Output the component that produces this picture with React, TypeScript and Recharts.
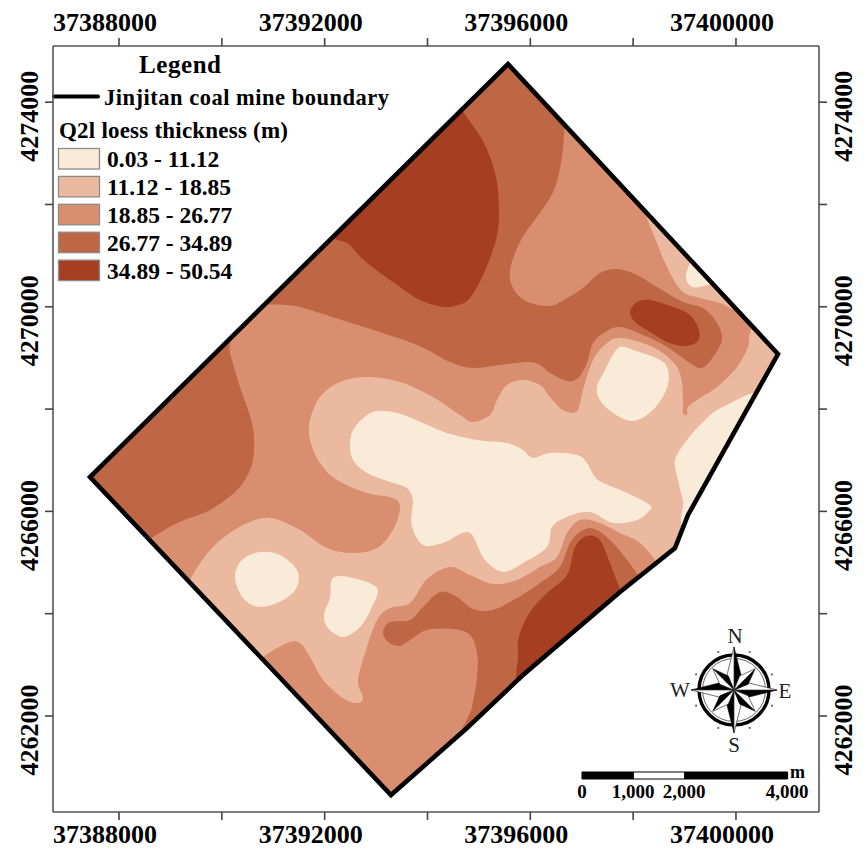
import React from 'react';
import { ScatterChart, Scatter, XAxis, YAxis, ReferenceArea } from 'recharts';

// Map grid origin; every contour vertex is [metres east, metres north] of it.
const ORIGIN_E = 37388000;
const ORIGIN_N = 4262000;
const X_DOMAIN = [37386716, 37401615];
const Y_DOMAIN = [4260123, 4275098];
const X_TICKS = [37388000, 37390000, 37392000, 37394000, 37396000, 37398000, 37400000];
const Y_TICKS = [4262000, 4264000, 4266000, 4268000, 4270000, 4272000, 4274000];
const X_LABELLED = [37388000, 37392000, 37396000, 37400000];
const Y_LABELLED = [4262000, 4266000, 4270000, 4274000];

const CLASS_LABELS = ['0.03 - 11.12', '11.12 - 18.85', '18.85 - 26.77', '26.77 - 34.89', '34.89 - 50.54'];
const CLASS_COLORS = ['#FAEAD8', '#EAB99F', '#D98F6F', '#BF6645', '#A63F22'];

const boundary = [[7566,12747],[12818,7077],[11067,3930],[10814,3284],[9744,2424],[7858,802],[6769,-235],[5290,-1544],[-564,4672]];

const west4 = [[2042,7585],[2159,7097],[2353,6432],[2587,5728],[2626,5200],[2548,4809],[2295,4418],[1770,4027],[1128,3773],[661,3499],[214,3245],[-1148,4614],[603,6764]];

const north4 = [[2451,8289],[4104,10283],[7508,13216],[8966,12141],[8714,11808],[8616,10928],[8461,10283],[8130,9755],[7819,9306],[7605,8719],[7683,8328],[7955,8094],[8383,8016],[8714,8172],[9025,8367],[9355,8661],[9686,8739],[10075,8622],[10464,8387],[10970,8094],[11359,7976],[11631,7683],[11728,7351],[11553,7018],[11339,6803],[11106,6901],[10659,7214],[10192,7449],[9744,7605],[9453,7507],[9219,7292],[9103,6901],[8928,6608],[8714,6549],[8383,6706],[8188,6862],[7936,6921],[7410,6862],[6885,6803],[6438,6921],[5796,7253],[4824,7585],[3520,7996]];

const north5 = [[4143,9599],[4493,9208],[4824,8856],[5465,8387],[5854,8133],[6302,7996],[6594,8035],[6827,8172],[7099,8661],[7333,9306],[7391,9834],[7333,10537],[7099,11202],[6710,11789],[6438,12199],[5465,11261]];

const ridge5 = [[9939,7898],[10075,8094],[10328,8133],[10775,7996],[11106,7840],[11281,7546],[11242,7312],[10970,7234],[10659,7312],[10328,7507],[10036,7703]];

const northEast2 = [[10211,10088],[10464,9247],[10717,8661],[10970,8289],[11300,8172],[11689,8074],[12176,7898],[12273,8524],[10911,10088]];

const central2 = [[12467,7840],[13245,7077],[11495,3832],[11106,2854],[10678,2815],[10133,3382],[9744,3578],[9297,3793],[8966,3832],[8714,3578],[8519,3108],[8188,2913],[7741,2659],[7274,2581],[6827,2757],[6438,2913],[5991,2678],[5660,2209],[5271,2111],[5018,1877],[4824,1349],[4649,704],[4746,352],[4629,254],[4357,352],[3968,704],[3715,1153],[3520,1427],[3268,1427],[2801,1153],[2451,860],[1148,2268],[1381,2659],[1575,2991],[1906,3382],[2412,3734],[2937,3871],[3520,3636],[4046,3284],[4551,3187],[5018,3284],[5329,3636],[5465,4066],[5329,4262],[4824,4360],[4240,4614],[3909,4946],[3715,5396],[3715,5787],[3909,6236],[4298,6530],[4824,6627],[5465,6530],[6107,6236],[6632,5885],[6885,5748],[7216,5885],[7352,6178],[7547,6471],[7858,6569],[8188,6471],[8383,6236],[8636,5982],[8908,5963],[9025,6373],[9219,6960],[9492,7292],[9744,7390],[10192,7292],[10581,7097],[10853,6823],[10950,6510],[10970,6119],[10970,5924],[11048,5885],[11067,6041],[11242,6178],[11631,6432],[12020,6823],[12234,7214],[12273,7488]];

const south4 = [[6710,-508],[6866,176],[6963,762],[6963,1232],[6827,1584],[6496,1701],[5991,1681],[5718,1525],[5465,1369],[5232,1447],[5135,1642],[5271,1838],[5660,1877],[5913,2131],[6243,2424],[6574,2326],[6885,2092],[7274,2072],[7741,2307],[8188,2600],[8577,2913],[8772,3382],[9025,3636],[9297,3636],[9608,3382],[9881,3050],[10095,2757],[10328,2424],[8577,704]];

const south5 = [[7936,508],[7761,1232],[7800,1623],[7994,2033],[8325,2405],[8714,2757],[8869,3304],[9103,3519],[9355,3441],[9550,2991],[9764,2424],[9900,2111]];

const central1 = [[4493,5337],[4590,5650],[4940,5943],[5407,5924],[5913,5728],[6380,5533],[6963,5396],[7547,5337],[7858,5200],[8052,5044],[8383,5142],[8908,5103],[9103,4946],[9317,4614],[9842,4379],[10328,4125],[10289,3988],[10075,3832],[9608,3773],[9161,3988],[8714,3890],[8422,3695],[8325,3304],[7858,2991],[7469,2815],[7119,3050],[6924,3441],[6827,3578],[6671,3578],[6302,3382],[5913,3343],[5699,3695],[5699,4027],[5718,4223],[5602,4457],[5271,4575],[4824,4751],[4551,5005]];

const blob1 = [[9706,7194],[9997,7155],[10522,6960],[10678,6764],[10659,6412],[10386,5982],[9997,5767],[9608,5924],[9355,6178],[9297,6432],[9453,6764]];

const east1 = [[12662,6334],[11748,6041],[11398,5787],[11048,5396],[10814,5005],[10873,4614],[10970,4223],[11145,3734],[13245,5396]];

const tiny1 = [[11242,9013],[11028,8622],[11145,8387],[11456,8426],[11787,8485],[11689,9013]];

const circle1 = [[2256,2717],[2392,3050],[2742,3206],[3131,3148],[3462,2854],[3462,2522],[3190,2268],[2742,2131],[2412,2307]];

const quad1 = [[4162,2698],[4551,2698],[5018,2502],[4921,2131],[4687,1740],[4357,1544],[4065,1720],[3987,1975],[4104,2307]];

// Scale bar, in map metres.
const SCALE_START_E = 37397005;
const SCALE_TOP_N = 4260905;
const SCALE_BOTTOM_N = 4260768;
const SCALE_STEPS = [0, 1000, 2000, 4000];
const SCALE_FILLS = ['#000000', '#ffffff', '#000000'];

const toRows = (pts: number[][]) => pts.map(([e, n]) => ({ e: ORIGIN_E + e, n: ORIGIN_N + n }));

const REGIONS: { name: string; pts: number[][]; color: string }[] = [
  { name: 'west4', pts: west4, color: CLASS_COLORS[3] },
  { name: 'north4', pts: north4, color: CLASS_COLORS[3] },
  { name: 'north5', pts: north5, color: CLASS_COLORS[4] },
  { name: 'ridge5', pts: ridge5, color: CLASS_COLORS[4] },
  { name: 'northEast2', pts: northEast2, color: CLASS_COLORS[1] },
  { name: 'central2', pts: central2, color: CLASS_COLORS[1] },
  { name: 'south4', pts: south4, color: CLASS_COLORS[3] },
  { name: 'south5', pts: south5, color: CLASS_COLORS[4] },
  { name: 'central1', pts: central1, color: CLASS_COLORS[0] },
  { name: 'blob1', pts: blob1, color: CLASS_COLORS[0] },
  { name: 'east1', pts: east1, color: CLASS_COLORS[0] },
  { name: 'tiny1', pts: tiny1, color: CLASS_COLORS[0] },
  { name: 'circle1', pts: circle1, color: CLASS_COLORS[0] },
  { name: 'quad1', pts: quad1, color: CLASS_COLORS[0] },
];

const SERIF = '"Liberation Serif", "Times New Roman", serif';

type P = { x: number; y: number };

const straightPath = (pts: P[]) => pts.map((p, i) => `${i ? 'L' : 'M'}${p.x.toFixed(1)},${p.y.toFixed(1)}`).join('') + 'Z';

const smoothPath = (pts: P[]) => {
  const n = pts.length;
  let d = `M${pts[0].x.toFixed(1)},${pts[0].y.toFixed(1)}`;
  for (let i = 0; i < n; i++) {
    const p0 = pts[(i - 1 + n) % n];
    const p1 = pts[i];
    const p2 = pts[(i + 1) % n];
    const p3 = pts[(i + 2) % n];
    const c1x = p1.x + (p2.x - p0.x) / 6;
    const c1y = p1.y + (p2.y - p0.y) / 6;
    const c2x = p2.x - (p3.x - p1.x) / 6;
    const c2y = p2.y - (p3.y - p1.y) / 6;
    d += `C${c1x.toFixed(1)},${c1y.toFixed(1)} ${c2x.toFixed(1)},${c2y.toFixed(1)} ${p2.x.toFixed(1)},${p2.y.toFixed(1)}`;
  }
  return d + 'Z';
};

const NoDot = () => <g />;

const baseLine = (props: any) => {
  const d = straightPath(props.points);
  return (
    <g>
      <clipPath id="mine-clip">
        <path d={d} />
      </clipPath>
      <path d={d} fill={CLASS_COLORS[2]} stroke="none" />
    </g>
  );
};

const outlineLine = (props: any) => (
  <path d={straightPath(props.points)} fill="none" stroke="#000" strokeWidth={4.6} strokeLinejoin="miter" />
);

const regionLine = (color: string) => (props: any) => (
  <path d={smoothPath(props.points)} fill={color} stroke="none" clipPath="url(#mine-clip)" />
);

const xTick = (baseline: number) => (p: any) =>
  X_LABELLED.includes(p.payload.value) ? (
    <text x={p.x - 14} y={baseline} textAnchor="middle" fontFamily={SERIF} fontWeight="bold" fontSize={26} fill="#000">
      {p.payload.value}
    </text>
  ) : (
    <g />
  );

const yTick = (baseline: number) => (p: any) =>
  Y_LABELLED.includes(p.payload.value) ? (
    <text
      transform={`translate(${baseline},${p.y + 14}) rotate(-90)`}
      textAnchor="middle"
      fontFamily={SERIF}
      fontWeight="bold"
      fontSize={26}
      fill="#000"
    >
      {p.payload.value}
    </text>
  ) : (
    <g />
  );

const MapLegend = () => (
  <g fontFamily={SERIF} fontWeight="bold" fill="#000">
    <text x={139} y={73} fontSize={25} textLength={82}>Legend</text>
    <line x1={54} y1={96.5} x2={98} y2={96.5} stroke="#000" strokeWidth={4} strokeLinecap="round" />
    <text x={104} y={105} fontSize={22.5} textLength={285}>Jinjitan coal mine boundary</text>
    <text x={59} y={138} fontSize={23} textLength={229}>Q2l loess thickness (m)</text>
    {CLASS_LABELS.map((label, i) => (
      <g key={label}>
        <rect x={58.5} y={148.5 + i * 27.9} width={41} height={20.5} fill={CLASS_COLORS[i]} stroke="#8c8c8c" strokeWidth={1.3} />
        <text x={107} y={167 + i * 27.9} fontSize={23.5}>{label}</text>
      </g>
    ))}
  </g>
);

const COMPASS_CX = 734;
const COMPASS_CY = 690;

const Compass = () => {
  const point = (r: number, deg: number) => {
    const a = (deg * Math.PI) / 180;
    return `${(COMPASS_CX + r * Math.sin(a)).toFixed(1)},${(COMPASS_CY - r * Math.cos(a)).toFixed(1)}`;
  };
  const kites: React.ReactNode[] = [];
  [0, 90, 180, 270, 45, 135, 225, 315].forEach((deg) => {
    const diag = deg % 90 !== 0;
    const r = diag ? 30 : 43;
    const w = diag ? 6 : 7;
    const waist = diag ? 14 : 15;
    kites.push(
      <polygon key={`a${deg}`} points={`${COMPASS_CX},${COMPASS_CY} ${point(r, deg)} ${point(Math.hypot(waist, w), deg + (Math.atan2(w, waist) * 180) / Math.PI)}`} fill="#000" stroke="#000" strokeWidth={0.6} />,
      <polygon key={`b${deg}`} points={`${COMPASS_CX},${COMPASS_CY} ${point(r, deg)} ${point(Math.hypot(waist, w), deg - (Math.atan2(w, waist) * 180) / Math.PI)}`} fill="#fff" stroke="#333" strokeWidth={0.7} />,
    );
  });
  const dots = [22.5, 67.5, 112.5, 157.5, 202.5, 247.5, 292.5, 337.5];
  return (
    <g>
      <circle cx={COMPASS_CX} cy={COMPASS_CY} r={35} fill="none" stroke="#000" strokeWidth={3.4} />
      <circle cx={COMPASS_CX} cy={COMPASS_CY} r={31.5} fill="none" stroke="#444" strokeWidth={0.8} />
      {dots.map((d) => {
        const [x, y] = point(41, d).split(',').map(Number);
        return <circle key={d} cx={x} cy={y} r={1.1} fill="#666" />;
      })}
      {kites}
      <g fontFamily={SERIF} fontSize={21} fill="#222" textAnchor="middle">
        <text x={735} y={643}>N</text>
        <text x={734} y={752}>S</text>
        <text x={680} y={697}>W</text>
        <text x={785} y={698}>E</text>
      </g>
    </g>
  );
};

const ScaleText = () => (
  <g fontFamily={SERIF} fontWeight="bold" fontSize={19} fill="#000">
    <text x={582} y={798} textAnchor="middle">0</text>
    <text x={633} y={798} textAnchor="middle">1,000</text>
    <text x={684} y={798} textAnchor="middle">2,000</text>
    <text x={787} y={798} textAnchor="middle">4,000</text>
    <text x={790} y={778} fontSize={18}>m</text>
  </g>
);

export default function App() {
  const axisLine = { stroke: '#555', strokeWidth: 1.6 };
  const tickLine = { stroke: '#444', strokeWidth: 1.6 };
  return (
    <div style={{ position: 'absolute', left: 0, top: 0, width: 867, height: 851, background: '#fff' }}>
      <ScatterChart width={867} height={851} margin={{ top: 0, right: 0, bottom: 0, left: 0 }}>
        <XAxis xAxisId={0} dataKey="e" type="number" orientation="bottom" domain={X_DOMAIN} allowDataOverflow ticks={X_TICKS} interval={0} height={39} tickSize={8} axisLine={axisLine} tickLine={tickLine} tick={xTick(843)} />
        <XAxis xAxisId="top" dataKey="e" type="number" orientation="top" domain={X_DOMAIN} allowDataOverflow ticks={X_TICKS} interval={0} height={46} tickSize={8} axisLine={axisLine} tickLine={tickLine} tick={xTick(31)} />
        <YAxis yAxisId={0} dataKey="n" type="number" orientation="left" domain={Y_DOMAIN} allowDataOverflow ticks={Y_TICKS} interval={0} width={53} tickSize={8} axisLine={axisLine} tickLine={tickLine} tick={yTick(38)} />
        <YAxis yAxisId="right" dataKey="n" type="number" orientation="right" domain={Y_DOMAIN} allowDataOverflow ticks={Y_TICKS} interval={0} width={48} tickSize={8} axisLine={axisLine} tickLine={tickLine} tick={yTick(852)} />
        <Scatter name="base" data={toRows(boundary)} line={baseLine} shape={NoDot} isAnimationActive={false} />
        {REGIONS.map((r) => (
          <Scatter key={r.name} name={r.name} data={toRows(r.pts)} line={regionLine(r.color)} shape={NoDot} isAnimationActive={false} />
        ))}
        <Scatter name="boundary" data={toRows(boundary)} line={outlineLine} shape={NoDot} isAnimationActive={false} />
        <Scatter name="frame" xAxisId="top" yAxisId="right" data={toRows(boundary)} shape={NoDot} isAnimationActive={false} />
        {SCALE_FILLS.map((fill, i) => (
          <ReferenceArea
            key={i}
            x1={SCALE_START_E + SCALE_STEPS[i]}
            x2={SCALE_START_E + SCALE_STEPS[i + 1]}
            y1={SCALE_BOTTOM_N}
            y2={SCALE_TOP_N}
            fill={fill}
            fillOpacity={1}
            stroke="#000"
            strokeWidth={1}
          />
        ))}
        <MapLegend />
        <Compass />
        <ScaleText />
      </ScatterChart>
    </div>
  );
}
